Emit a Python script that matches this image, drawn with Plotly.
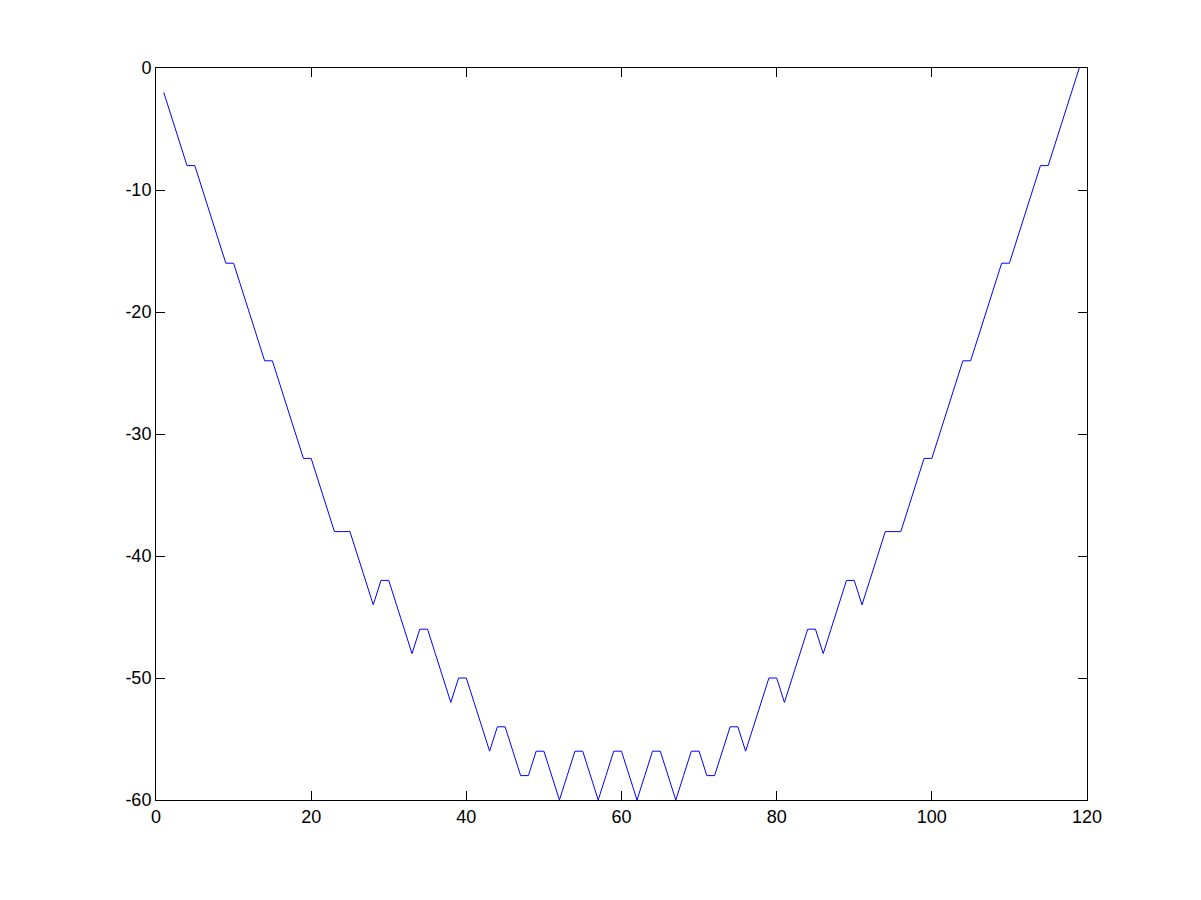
import plotly.graph_objects as go

x = list(range(1, 120))
y = [-2, -4, -6, -8, -8, -10, -12, -14, -16, -16,
     -18, -20, -22, -24, -24, -26, -28, -30, -32, -32,
     -34, -36, -38, -38, -38, -40, -42, -44, -42, -42,
     -44, -46, -48, -46, -46, -48, -50, -52, -50, -50,
     -52, -54, -56, -54, -54, -56, -58, -58, -56, -56,
     -58, -60, -58, -56, -56, -58, -60, -58, -56, -56,
     -58, -60, -58, -56, -56, -58, -60, -58, -56, -56,
     -58, -58, -56, -54, -54, -56, -54, -52, -50, -50,
     -52, -50, -48, -46, -46, -48, -46, -44, -42, -42,
     -44, -42, -40, -38, -38, -38, -36, -34, -32, -32,
     -30, -28, -26, -24, -24, -22, -20, -18, -16, -16,
     -14, -12, -10, -8, -8, -6, -4, -2, 0]

xticks = [0, 20, 40, 60, 80, 100, 120]
yticks = [-60, -50, -40, -30, -20, -10, 0]

fig = go.Figure(go.Scatter(x=x, y=y, mode='lines',
                           line=dict(color='#0000ff', width=1)))

axis_style = dict(
    showgrid=False, zeroline=False, showline=True, mirror='ticks',
    linecolor='black', linewidth=1, ticks='inside', ticklen=9,
    tickcolor='black', tickfont=dict(family='Liberation Sans, Arial', size=18, color='black'),
)
fig.update_xaxes(range=[0, 120], tickvals=xticks, ticktext=[str(v) for v in xticks], **axis_style)
# plain hyphen for negatives, like the original
fig.update_yaxes(range=[-60, 0], tickvals=yticks, ticktext=[str(v) for v in yticks], **axis_style)

# page body adds an 8px offset, so margins are shifted to compensate
fig.update_layout(
    width=1201, height=900,
    margin=dict(l=148, r=122, t=60, b=108),
    plot_bgcolor='white', paper_bgcolor='white',
    showlegend=False,
)

fig.write_html("out.html")
